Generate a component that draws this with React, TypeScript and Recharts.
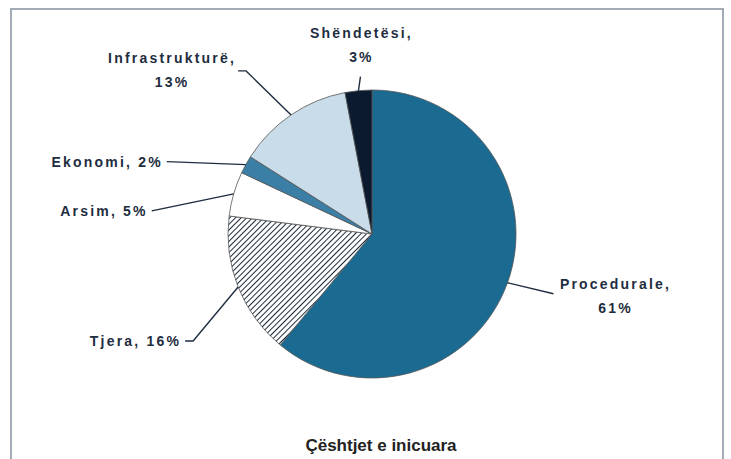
import React from 'react';
import { PieChart, Pie, Cell } from 'recharts';

const categories = ['Procedurale', 'Tjera', 'Arsim', 'Ekonomi', 'Infrastrukturë', 'Shëndetësi'];
const values = [61, 16, 5, 2, 13, 3];
const twoLineLabels = [true, false, false, false, true, true];
const title = 'Çështjet e inicuara';

const colors = ['#1a6a92', 'url(#hatch)', '#ffffff', '#3b7fa6', '#c9dcea', '#0b1a2e'];

// label leader layout: (dx,dy) from slice edge to elbow, tail length, text offset from elbow
const labelLayout = [
  { dx: 46, dy: 11, tail: 0, tx: 62, ty: -10, anchor: 'middle' },
  { dx: -45, dy: 54, tail: -8, tx: -12, ty: 0, anchor: 'end' },
  { dx: -82, dy: 17, tail: 0, tx: -4, ty: 0, anchor: 'end' },
  { dx: -79, dy: -3, tail: 0, tx: -4, ty: 0, anchor: 'end' },
  { dx: -45, dy: -44, tail: -8, tx: -74, ty: -13, anchor: 'middle' },
  { dx: 2, dy: -14, tail: 0, tx: 1, ty: -44, anchor: 'middle' },
];

const data = categories.map((name, i) => ({ name, value: values[i] }));

const FONT = '"Liberation Sans", Arial, sans-serif';
const TEXT_COLOR = '#1e2d40';

const renderLabel = (props: any) => {
  const { cx, cy, midAngle, outerRadius, index } = props;
  const RAD = Math.PI / 180;
  const ex = cx + outerRadius * Math.cos(-midAngle * RAD);
  const ey = cy + outerRadius * Math.sin(-midAngle * RAD);
  const lay = labelLayout[index];
  const lx = ex + lay.dx;
  const ly = ey + lay.dy;
  const tx = lx + lay.tail;
  const name = categories[index];
  const pct = values[index] + '%';
  const lines = twoLineLabels[index] ? [name + ',', pct] : [name + ', ' + pct];
  return (
    <g key={'lbl' + index}>
      <polyline
        points={`${ex},${ey} ${lx},${ly} ${tx},${ly}`}
        fill="none"
        stroke="#1e2d40"
        strokeWidth={1.4}
      />
      {lines.map((t, j) => (
        <text
          key={j}
          x={lx + lay.tx}
          y={ly + lay.ty + j * 24}
          textAnchor={lay.anchor as any}
          dominantBaseline="central"
          fontFamily={FONT}
          fontWeight="bold"
          fontSize={14}
          letterSpacing={2.2}
          fill={TEXT_COLOR}
        >
          {t}
        </text>
      ))}
    </g>
  );
};

export default function App() {
  return (
    <div style={{ position: 'absolute', left: 0, top: 0, width: 731, height: 459, background: '#fff', overflow: 'hidden' }}>
      <div
        style={{
          position: 'absolute',
          left: 10,
          top: 8,
          width: 714,
          height: 470,
          border: '2px solid #a3acb6',
          boxSizing: 'border-box',
        }}
      />
      <div style={{ position: 'absolute', left: 0, top: 0 }}>
        <PieChart width={731} height={459} margin={{ top: 0, right: 0, bottom: 0, left: 0 }}>
          <defs>
            <pattern id="hatch" width="4" height="4" patternUnits="userSpaceOnUse" patternTransform="rotate(45)">
              <rect width="4" height="4" fill="#ffffff" />
              <line x1="0" y1="0" x2="0" y2="4" stroke="#1c2b3a" strokeWidth={2} />
            </pattern>
          </defs>
          <Pie
            data={data}
            dataKey="value"
            nameKey="name"
            cx={372}
            cy={234}
            outerRadius={144}
            startAngle={90}
            endAngle={-270}
            stroke="#555"
            strokeWidth={0.8}
            label={renderLabel}
            labelLine={false}
            isAnimationActive={false}
          >
            {data.map((d, i) => (
              <Cell key={d.name} fill={colors[i]} />
            ))}
          </Pie>
        </PieChart>
      </div>
      <div
        style={{
          position: 'absolute',
          left: 0,
          width: 762,
          top: 436,
          textAlign: 'center',
          fontFamily: FONT,
          fontWeight: 'bold',
          fontSize: 17,
          color: '#222',
        }}
      >
        {title}
      </div>
    </div>
  );
}
